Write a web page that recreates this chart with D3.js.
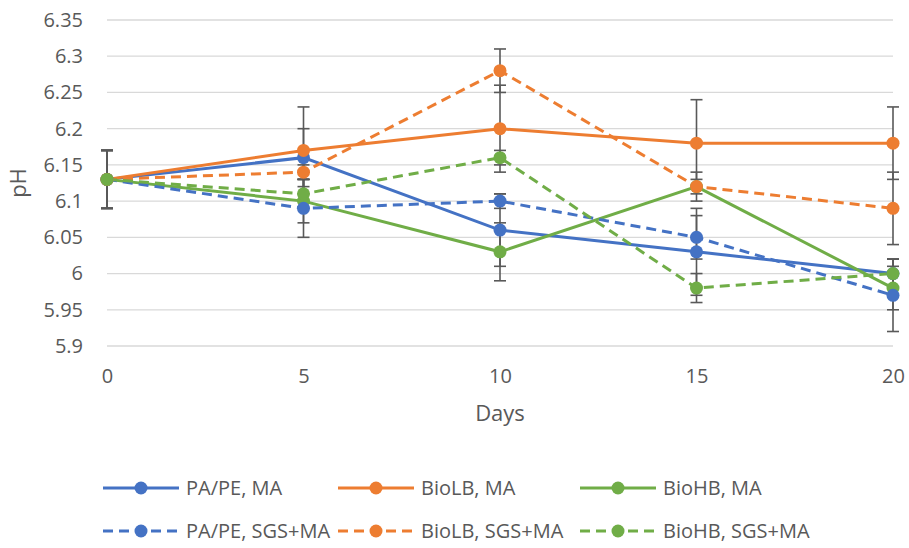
<!DOCTYPE html>
<html>
  <head>
    <meta charset="UTF-8">
    <script src="https://cdn.jsdelivr.net/npm/d3@7"></script>
    <style>
      body { margin: 0; background: #fff; }
      text { font-family: "Open Sans", sans-serif; fill: #595959; }
    </style>
  </head>
  <body>
    <svg id="chart" width="909" height="548"></svg>
    <script type="text/javascript">
      // data
      var days = [0, 5, 10, 15, 20];
      var yTicks = [5.9, 5.95, 6, 6.05, 6.1, 6.15, 6.2, 6.25, 6.3, 6.35];
      var seriesNames = ["PA/PE, MA", "BioLB, MA", "BioHB, MA", "PA/PE, SGS+MA", "BioLB, SGS+MA", "BioHB, SGS+MA"];
      var paMA    = [6.13, 6.16, 6.06, 6.03, 6.00];
      var lbMA    = [6.13, 6.17, 6.20, 6.18, 6.18];
      var hbMA    = [6.13, 6.10, 6.03, 6.12, 5.98];
      var paSGS   = [6.13, 6.09, 6.10, 6.05, 5.97];
      var lbSGS   = [6.13, 6.14, 6.28, 6.12, 6.09];
      var hbSGS   = [6.13, 6.11, 6.16, 5.98, 6.00];
      // +/- error
      var paMAErr  = [0.04, 0.04, 0.05, 0.06, 0.02];
      var lbMAErr  = [0.04, 0.06, 0.06, 0.06, 0.05];
      var hbMAErr  = [0.04, 0.03, 0.04, 0.02, 0.03];
      var paSGSErr = [0.04, 0.04, 0.01, 0.03, 0.05];
      var lbSGSErr = [0.04, 0.01, 0.03, 0.01, 0.05];
      var hbSGSErr = [0.04, 0.02, 0.01, 0.02, 0.02];

      var colors = ["#4472C4", "#ED7D31", "#70AD47", "#4472C4", "#ED7D31", "#70AD47"];
      var dashed = [false, false, false, true, true, true];
      var values = [paMA, lbMA, hbMA, paSGS, lbSGS, hbSGS];
      var errs = [paMAErr, lbMAErr, hbMAErr, paSGSErr, lbSGSErr, hbSGSErr];

      var series = seriesNames.map(function(n, i) {
        return {
          name: n, color: colors[i], dash: dashed[i],
          pts: days.map(function(d, j) { return { x: d, y: values[i][j], e: errs[i][j] }; })
        };
      });

      var svg = d3.select("#chart");
      var x = d3.scaleLinear().domain([0, 20]).range([107, 893]);
      var y = d3.scaleLinear().domain([5.9, 6.35]).range([346, 20]);

      // gridlines
      svg.append("g").selectAll("line").data(yTicks).enter().append("line")
        .attr("x1", x(0)).attr("x2", x(20))
        .attr("y1", function(d) { return y(d); }).attr("y2", function(d) { return y(d); })
        .attr("stroke", "#d9d9d9").attr("stroke-width", 1.3);

      // y axis labels
      var yAxis = d3.axisLeft(y).tickValues(yTicks).tickSize(0).tickPadding(0)
        .tickFormat(function(d) { return d3.format("")(+d.toFixed(2)); });
      var gy = svg.append("g").attr("transform", "translate(83,0)").call(yAxis);
      gy.select(".domain").remove();
      gy.selectAll("text").style("font-size", "20px").attr("fill", "#595959")
        .style("font-family", "'Open Sans', sans-serif");

      // x axis labels
      var xAxis = d3.axisBottom(x).tickValues(days).tickSize(0).tickPadding(0);
      var gx = svg.append("g").attr("transform", "translate(0,369)").call(xAxis);
      gx.select(".domain").remove();
      gx.selectAll("text").style("font-size", "20px").attr("fill", "#595959")
        .style("font-family", "'Open Sans', sans-serif");

      // axis titles
      svg.append("text").attr("x", x(10)).attr("y", 421).attr("text-anchor", "middle")
        .style("font-size", "22px").text("Days");
      svg.append("text").attr("transform", "translate(26,183) rotate(-90)")
        .attr("text-anchor", "middle").style("font-size", "22px").text("pH");

      var line = d3.line().x(function(d) { return x(d.x); }).y(function(d) { return y(d.y); });

      // lines
      series.forEach(function(s) {
        svg.append("path").datum(s.pts).attr("d", line)
          .attr("fill", "none").attr("stroke", s.color).attr("stroke-width", 3)
          .attr("stroke-dasharray", s.dash ? "10,6" : null);
      });

      // error bars
      var eb = svg.append("g").attr("stroke", "#595959").attr("stroke-width", 1.6);
      series.forEach(function(s) {
        s.pts.forEach(function(p) {
          var y1 = y(p.y + p.e), y2 = y(p.y - p.e), cx = x(p.x);
          eb.append("line").attr("x1", cx).attr("x2", cx).attr("y1", y1).attr("y2", y2);
          [y1, y2].forEach(function(yy) {
            eb.append("line").attr("x1", cx - 6).attr("x2", cx + 6).attr("y1", yy).attr("y2", yy);
          });
        });
      });

      // markers
      series.forEach(function(s) {
        svg.append("g").selectAll("circle").data(s.pts).enter().append("circle")
          .attr("cx", function(d) { return x(d.x); })
          .attr("cy", function(d) { return y(d.y); })
          .attr("r", 6.5).attr("fill", s.color);
      });

      // legend
      var legX = [103, 338, 580], legY = [488, 531];
      series.forEach(function(s, i) {
        var lx = legX[i % 3], ly = legY[Math.floor(i / 3)];
        var g = svg.append("g").attr("transform", "translate(" + lx + "," + ly + ")");
        g.append("line").attr("x1", 0).attr("x2", 76).attr("y1", 0).attr("y2", 0)
          .attr("stroke", s.color).attr("stroke-width", 3)
          .attr("stroke-dasharray", s.dash ? "10,6" : null);
        g.append("circle").attr("cx", 38).attr("cy", 0).attr("r", 6.5).attr("fill", s.color);
        g.append("text").attr("x", 83).attr("y", 7).style("font-size", "20px").text(s.name);
      });
    </script>
  </body>
</html>
